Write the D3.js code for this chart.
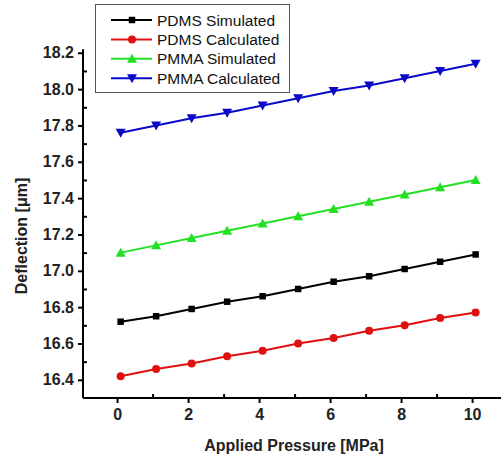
<!DOCTYPE html>
<html>
<head>
<meta charset="utf-8">
<script src="https://cdn.jsdelivr.net/npm/d3@7"></script>
<style>
  body { margin: 0; background: #fff; }
  text { font-family: "Liberation Sans", Arial, sans-serif; }
</style>
</head>
<body>
<svg id="chart" width="501" height="456"></svg>
<script>
// data
const pressure = [0.1, 1.1, 2.1, 3.1, 4.1, 5.1, 6.1, 7.1, 8.1, 9.1, 10.1];
const pdmsSimulated  = [16.72, 16.75, 16.79, 16.83, 16.86, 16.90, 16.94, 16.97, 17.01, 17.05, 17.09];
const pdmsCalculated = [16.42, 16.46, 16.49, 16.53, 16.56, 16.60, 16.63, 16.67, 16.70, 16.74, 16.77];
const pmmaSimulated  = [17.10, 17.14, 17.18, 17.22, 17.26, 17.30, 17.34, 17.38, 17.42, 17.46, 17.50];
const pmmaCalculated = [17.76, 17.80, 17.84, 17.87, 17.91, 17.95, 17.99, 18.02, 18.06, 18.10, 18.14];
const xTicks = [0, 2, 4, 6, 8, 10];
const yTicks = [16.4, 16.6, 16.8, 17.0, 17.2, 17.4, 17.6, 17.8, 18.0, 18.2];

const series = [
  { name: 'PDMS Simulated',  values: pdmsSimulated,  color: '#000000', symbol: d3.symbolSquare },
  { name: 'PDMS Calculated', values: pdmsCalculated, color: '#e01010', symbol: d3.symbolCircle },
  { name: 'PMMA Simulated',  values: pmmaSimulated,  color: '#22e022', symbol: 'up' },
  { name: 'PMMA Calculated', values: pmmaCalculated, color: '#0a0ac8', symbol: 'down' }
];

const svg = d3.select('#chart');
const left = 83, bottom = 398;

const x = d3.scaleLinear().domain([-0.96, 11]).range([left, left + 11.96 * 35.5]);
const y = d3.scaleLinear().domain([16.3, 18.22]).range([bottom, bottom - 1.92 * 181.7]);

function marker(g, s, cx, cy) {
  if (s.symbol === 'up' || s.symbol === 'down') {
    const d = s.symbol === 'up' ? 1 : -1;
    g.append('path')
      .attr('d', `M${cx},${cy - 5 * d}L${cx + 5},${cy + 4 * d}L${cx - 5},${cy + 4 * d}Z`)
      .attr('fill', s.color);
  } else {
    g.append('path')
      .attr('d', d3.symbol().type(s.symbol).size(s.symbol === d3.symbolSquare ? 42 : 50)())
      .attr('transform', `translate(${cx},${cy})`)
      .attr('fill', s.color);
  }
}

// axes
const xAxis = svg.append('g').attr('transform', `translate(0,${bottom})`)
  .call(d3.axisBottom(x).tickValues(xTicks).tickSize(5).tickPadding(6).tickFormat(d3.format('d')));
// minor ticks inward
svg.append('g').attr('transform', `translate(0,${bottom})`)
  .call(d3.axisBottom(x).tickValues([1, 3, 5, 7, 9]).tickSize(-4).tickFormat(''))
  .select('.domain').remove();

const yAxis = svg.append('g').attr('transform', `translate(${left},0)`)
  .call(d3.axisLeft(y).tickValues(yTicks).tickSize(5).tickPadding(4).tickFormat(d3.format('.1f')));
svg.append('g').attr('transform', `translate(${left},0)`)
  .call(d3.axisLeft(y).tickValues(d3.range(16.5, 18.2, 0.2)).tickSize(-4).tickFormat(''))
  .select('.domain').remove();

svg.selectAll('.domain').attr('stroke-width', 2);
xAxis.select('.domain').attr('d', `M${left},0H501`);
yAxis.select('.domain').attr('d', `M0,${y(18.22)}V${bottom}`);
svg.selectAll('.tick line').attr('stroke-width', 2);
svg.selectAll('.tick text').attr('font-size', 16).attr('font-weight', 'bold').attr('fill', '#222');

// lines
const line = d3.line().x((d, i) => x(pressure[i])).y(d => y(d));
series.forEach(s => {
  svg.append('path').datum(s.values)
    .attr('d', line).attr('fill', 'none')
    .attr('stroke', s.color).attr('stroke-width', 2);
  const g = svg.append('g');
  s.values.forEach((v, i) => marker(g, s, x(pressure[i]), y(v)));
});

// axis titles
svg.append('text')
  .attr('transform', `translate(27,236) rotate(-90)`)
  .attr('text-anchor', 'middle').attr('font-size', 16).attr('font-weight', 'bold').attr('fill', '#222')
  .text('Deflection [μm]');
svg.append('text')
  .attr('x', 294).attr('y', 451)
  .attr('text-anchor', 'middle').attr('font-size', 16).attr('font-weight', 'bold').attr('fill', '#222')
  .text('Applied Pressure [MPa]');

// legend
const legend = svg.append('g');
legend.append('rect').attr('x', 95.5).attr('y', 4.5).attr('width', 194).attr('height', 88)
  .attr('fill', '#fff').attr('stroke', '#555').attr('stroke-width', 1);
series.forEach((s, i) => {
  const ly = 20 + i * 19.4;
  legend.append('line').attr('x1', 111).attr('x2', 152).attr('y1', ly).attr('y2', ly)
    .attr('stroke', s.color).attr('stroke-width', 2);
  marker(legend, s, 132, ly);
  legend.append('text').attr('x', 157).attr('y', ly + 5.5)
    .attr('font-size', 15.5).attr('fill', '#111').text(s.name);
});
</script>
</body>
</html>
